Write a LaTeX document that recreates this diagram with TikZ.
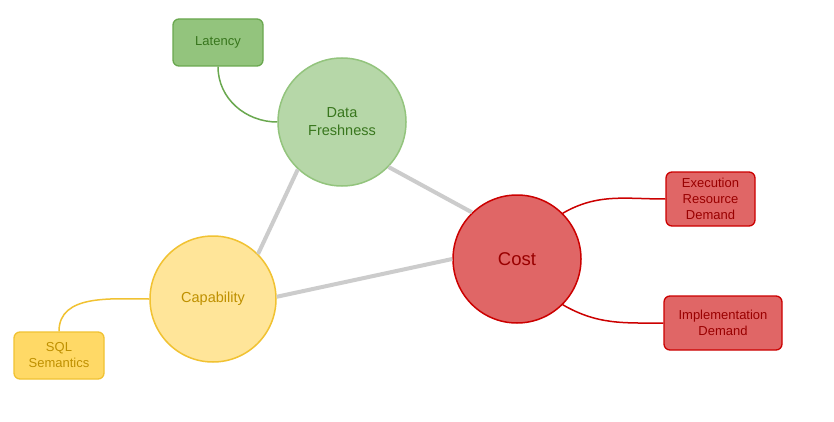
\documentclass[tikz,border=0pt]{standalone}
\usepackage{fontspec}
\setmainfont{Liberation Sans}
\definecolor{gfill}{HTML}{B6D7A8}
\definecolor{gdraw}{HTML}{93C47D}
\definecolor{gbox}{HTML}{93C47D}
\definecolor{gboxd}{HTML}{6AA84F}
\definecolor{gtext}{HTML}{38761D}
\definecolor{yfill}{HTML}{FFE599}
\definecolor{ybox}{HTML}{FFD966}
\definecolor{ydraw}{HTML}{F1C232}
\definecolor{ytext}{HTML}{BF9000}
\definecolor{rfill}{HTML}{E06666}
\definecolor{rdraw}{HTML}{CC0000}
\definecolor{rtext}{HTML}{990000}
\definecolor{link}{HTML}{CCCCCC}
\tikzset{
  bigcirc/.style={circle, minimum size=128pt, inner sep=0pt, line width=1.5pt, align=center, font=\fontsize{14.5}{18}\selectfont},
  leafbox/.style={rectangle, rounded corners=6pt, inner sep=0pt, line width=1.3pt, align=center, font=\fontsize{13}{16}\selectfont},
  mainlink/.style={draw=link, line width=4pt},
  sublink/.style={line width=1.5pt}
}
\begin{document}
\begin{tikzpicture}[x=1pt,y=1pt]
\useasboundingbox[fill=white] (0,0) rectangle (834,-422);
% circles
\node[bigcirc, fill=gfill, draw=gdraw, text=gtext] (df) at (342,-122) {Data\\Freshness};
\node[bigcirc, fill=yfill, draw=ydraw, text=ytext, minimum size=126pt] (cap) at (213,-299) {Capability};
\node[bigcirc, fill=rfill, draw=rdraw, text=rtext, font=\fontsize{18.5}{22}\selectfont] (cost) at (517,-259) {Cost};
% boxes
\node[leafbox, fill=gbox, draw=gboxd, text=gtext, minimum width=90pt, minimum height=47pt] (lat) at (218,-42.5) {Latency};
\node[leafbox, fill=ybox, draw=ydraw, text=ytext, minimum width=90pt, minimum height=47pt] (sql) at (59,-355.5) {SQL\\Semantics};
\node[leafbox, fill=rfill, draw=rdraw, text=rtext, minimum width=89pt, minimum height=54pt] (erd) at (710.5,-199) {Execution\\Resource\\Demand};
\node[leafbox, fill=rfill, draw=rdraw, text=rtext, minimum width=118pt, minimum height=54pt] (imp) at (723,-323) {Implementation\\Demand};
% main links
\draw[mainlink] (df.227) -- (cap.45);
\draw[mainlink] (df.-44) -- (cost.134);
\draw[mainlink] (cap.2) -- (cost.180);
% sub links
\draw[sublink, draw=gboxd] (lat.south) to[out=-90,in=180] (df.west);
\draw[sublink, draw=ydraw] (cap.west) to[out=180,in=90] (sql.north);
\draw[sublink, draw=rdraw] (cost.45) to[out=30,in=180] (erd.west);
\draw[sublink, draw=rdraw] (cost.-45) to[out=-30,in=180] (imp.west);
\end{tikzpicture}
\end{document}
